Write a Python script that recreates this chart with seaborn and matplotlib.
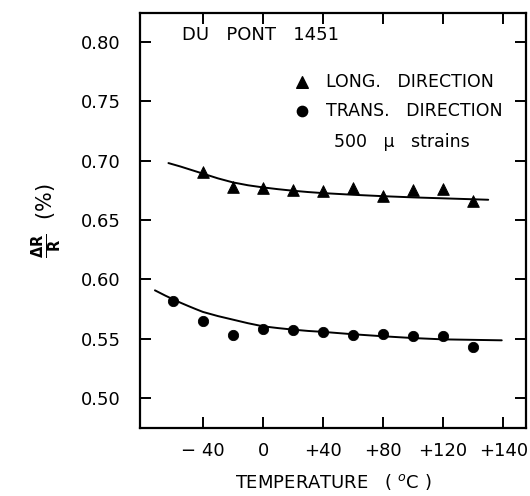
import numpy as np
import pandas as pd
import matplotlib
matplotlib.use("Agg")
import matplotlib.pyplot as plt
import seaborn as sns

# ------------------------------
# Data
# ------------------------------
long_temp = [-40, -20, 0, 20, 40, 60, 80, 100, 120, 140]
long_dr = [0.690, 0.678, 0.677, 0.675, 0.674, 0.677, 0.670, 0.675, 0.676, 0.666]

trans_temp = [-60, -40, -20, 0, 20, 40, 60, 80, 100, 120, 140]
trans_dr = [0.582, 0.565, 0.553, 0.558, 0.557, 0.556, 0.553, 0.554, 0.5525, 0.552, 0.543]

# fitted curves
long_fit_temp = [-63, -55, -50, -45, -40, -30, -20, -10, 0, 10, 20, 30, 40, 60, 80, 100, 120, 150]
long_fit_dr = [0.6979, 0.6950, 0.6930, 0.6910, 0.6890, 0.6850, 0.6816, 0.6792, 0.6774,
               0.6759, 0.6746, 0.6735, 0.6726, 0.6712, 0.6700, 0.6690, 0.6682, 0.6670]

trans_fit_temp = [-72, -65, -60, -55, -50, -45, -40, -30, -20, -10, 0, 10, 20, 30, 40,
                  60, 80, 100, 120, 159]
trans_fit_dr = [0.5907, 0.5862, 0.5832, 0.5803, 0.5776, 0.5750, 0.5725, 0.5690, 0.5660,
                0.5630, 0.5604, 0.5589, 0.5576, 0.5565, 0.5557, 0.5537, 0.5520, 0.5505,
                0.5494, 0.5486]

x_ticks = [-40, 0, 40, 80, 120, 160]
x_labels = ["\u2212 40", "0", "+40", "+80", "+120", "+140"]
y_ticks = [0.50, 0.55, 0.60, 0.65, 0.70, 0.75, 0.80]

# ------------------------------
# Plot
# ------------------------------
sns.set_style("ticks")
plt.rcParams["font.family"] = ["DejaVu Sans"]
plt.rcParams["text.color"] = "black"
plt.rcParams["axes.labelcolor"] = "black"
plt.rcParams["xtick.color"] = "black"
plt.rcParams["ytick.color"] = "black"
plt.rcParams["axes.edgecolor"] = "black"

fig = plt.figure(figsize=(5.3, 4.96), dpi=100)
ax = fig.add_axes([0.264, 0.137, 0.728, 0.837])

sns.lineplot(x=long_fit_temp, y=long_fit_dr, ax=ax, color="black", lw=1.4, sort=False)
sns.lineplot(x=trans_fit_temp, y=trans_fit_dr, ax=ax, color="black", lw=1.4, sort=False)
sns.scatterplot(x=long_temp, y=long_dr, ax=ax, marker="^", s=70, color="black", edgecolor="black")
sns.scatterplot(x=trans_temp, y=trans_dr, ax=ax, marker="o", s=55, color="black", edgecolor="black")

ax.set_xlim(-82, 175)
ax.set_ylim(0.4747, 0.8244)
ax.set_xticks(x_ticks)
ax.set_xticklabels(x_labels)
ax.set_yticks(y_ticks)
ax.set_yticklabels([f"{v:.2f}" for v in y_ticks])

ax.tick_params(direction="in", top=True, right=True, length=8, width=1.4,
               labelsize=13, pad=10)
ax.tick_params(axis="y", pad=14)
for side in ["left", "right", "top", "bottom"]:
    ax.spines[side].set_linewidth(1.6)
    ax.spines[side].set_visible(True)

ax.set_xlabel("TEMPERATURE   ( $^{o}$C )", fontsize=13, labelpad=9)
ax.set_ylabel(r"$\mathbf{\frac{\Delta R}{R}}$  (%)", fontsize=15, labelpad=12)

# legend / annotations as text
ax.text(-54, 0.806, "DU   PONT   1451", fontsize=13, va="center", ha="left")
ax.scatter([26], [0.7663], marker="^", s=70, color="black")
ax.text(42, 0.7663, "LONG.   DIRECTION", fontsize=12.5, va="center", ha="left")
ax.scatter([26], [0.7420], marker="o", s=55, color="black")
ax.text(42, 0.7420, "TRANS.   DIRECTION", fontsize=12.5, va="center", ha="left")
ax.text(47, 0.7160, "500   \u03bc   strains", fontsize=12.5, va="center", ha="left")

fig.savefig("out.png", dpi=100)
